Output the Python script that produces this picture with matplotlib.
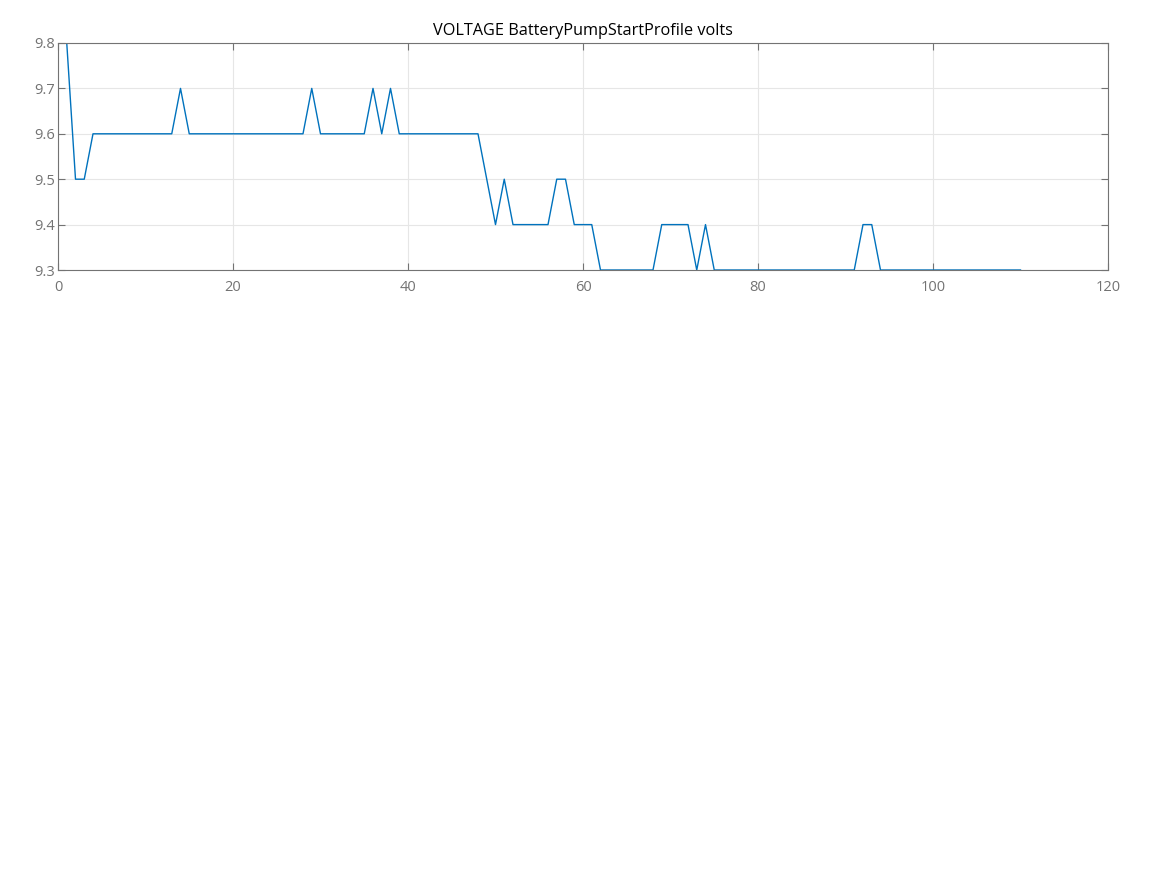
import matplotlib
matplotlib.use("Agg")
import matplotlib.pyplot as plt
import numpy as np

# sample index and battery voltage readings
sample = np.arange(1, 111)
volts = ([9.8, 9.5, 9.5] + [9.6] * 10 + [9.7] + [9.6] * 14 + [9.7] + [9.6] * 6
         + [9.7, 9.6, 9.7] + [9.6] * 10 + [9.5, 9.4, 9.5] + [9.4] * 5 + [9.5, 9.5]
         + [9.4] * 3 + [9.3] * 7 + [9.4] * 4 + [9.3, 9.4] + [9.3] * 17 + [9.4, 9.4]
         + [9.3] * 17)

x_ticks = [0, 20, 40, 60, 80, 100, 120]
y_ticks = [9.3, 9.4, 9.5, 9.6, 9.7, 9.8]

plt.rcParams['font.family'] = ['Open Sans', 'DejaVu Sans']

fig = plt.figure(figsize=(11.67, 8.75), dpi=100)
ax = fig.add_axes([58 / 1167, (875 - 270) / 875, 1050 / 1167, 227 / 875])

ax.plot(sample, volts, color='#0072BD', linewidth=1.0)

ax.set_xlim(0, 120)
ax.set_ylim(9.3, 9.8)
ax.set_xticks(x_ticks)
ax.set_yticks(y_ticks)
ax.set_xticklabels([str(t) for t in x_ticks])
ax.set_yticklabels([f"{t:.1f}" for t in y_ticks])

ax.grid(True, color='#e6e6e6', linewidth=0.8)
ax.set_axisbelow(True)
for s in ax.spines.values():
    s.set_color('#737373')
    s.set_linewidth(0.8)
ax.tick_params(direction='in', length=5, width=0.8, colors='#737373',
               labelcolor='#737373', labelsize=10.5, top=True, right=True)
ax.tick_params(axis='x', pad=7)
ax.tick_params(axis='y', pad=2)

ax.set_title("VOLTAGE BatteryPumpStartProfile volts", fontsize=11.7, color='black', pad=6)

fig.savefig("out.png", dpi=100)
